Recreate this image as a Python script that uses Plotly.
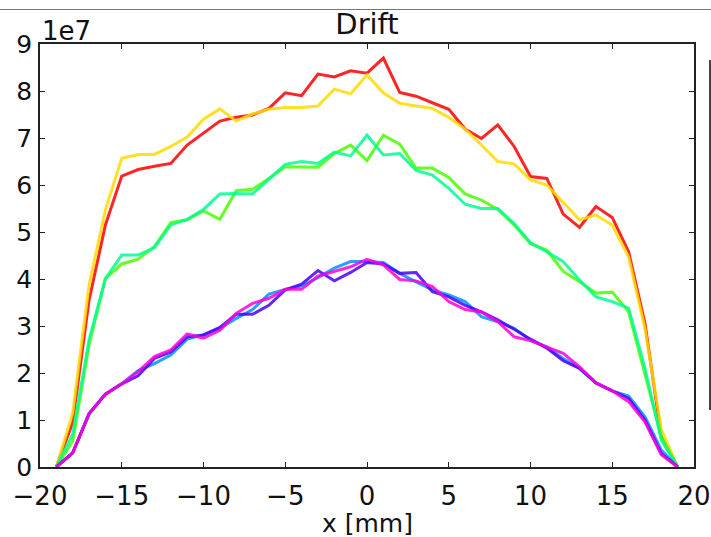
import numpy as np
import plotly.graph_objects as go

# Positions along the detector (mm)
x_mm = list(range(-19, 20))

# Drift signal per channel, in units of 1e7
red = [0, 0.95, 3.55, 5.15, 6.19, 6.33, 6.40, 6.46, 6.85, 7.10, 7.36, 7.44, 7.49, 7.63, 7.96, 7.90, 8.36, 8.30, 8.43,
       8.38, 8.70, 7.97, 7.89, 7.75, 7.61, 7.19, 6.99, 7.28, 6.82, 6.18, 6.14, 5.38, 5.10, 5.54, 5.31, 4.58, 3.06, 0.65, 0]
gold = [0, 1.15, 3.87, 5.47, 6.57, 6.65, 6.65, 6.82, 7.02, 7.40, 7.62, 7.36, 7.51, 7.61, 7.65, 7.65, 7.68, 8.04, 7.94,
        8.34, 7.96, 7.74, 7.68, 7.63, 7.44, 7.19, 6.85, 6.50, 6.45, 6.11, 6.00, 5.62, 5.26, 5.36, 5.15, 4.47, 2.95, 0.80, 0]
lime = [0, 0.55, 2.60, 4.01, 4.32, 4.42, 4.69, 5.20, 5.26, 5.45, 5.27, 5.88, 5.91, 6.14, 6.39, 6.38, 6.38, 6.67, 6.85,
        6.52, 7.06, 6.87, 6.36, 6.36, 6.16, 5.81, 5.68, 5.48, 5.15, 4.75, 4.61, 4.16, 3.94, 3.70, 3.72, 3.30, 1.95, 0.65, 0]
spring = [0, 0.70, 2.70, 4.01, 4.51, 4.51, 4.67, 5.15, 5.27, 5.48, 5.81, 5.82, 5.81, 6.12, 6.44, 6.50, 6.46, 6.70, 6.62,
          7.06, 6.64, 6.67, 6.31, 6.21, 5.93, 5.59, 5.50, 5.50, 5.18, 4.77, 4.58, 4.37, 3.98, 3.62, 3.52, 3.38, 2.10, 0.57, 0]
sky = [0, 0.30, 1.13, 1.55, 1.77, 2.05, 2.20, 2.38, 2.72, 2.81, 2.95, 3.16, 3.35, 3.68, 3.78, 3.85, 4.03, 4.23, 4.37,
       4.37, 4.35, 4.12, 3.94, 3.77, 3.66, 3.52, 3.20, 3.09, 2.95, 2.70, 2.55, 2.31, 2.10, 1.79, 1.62, 1.51, 1.07, 0.36, 0]
violet = [0, 0.30, 1.13, 1.55, 1.77, 1.94, 2.31, 2.45, 2.77, 2.81, 2.97, 3.25, 3.25, 3.44, 3.77, 3.89, 4.18, 3.96, 4.14,
          4.35, 4.32, 4.12, 4.14, 3.73, 3.62, 3.44, 3.30, 3.13, 2.93, 2.72, 2.53, 2.26, 2.10, 1.79, 1.62, 1.46, 1.00, 0.29, 0]
magenta = [0, 0.30, 1.13, 1.55, 1.77, 2.03, 2.35, 2.49, 2.83, 2.74, 2.91, 3.27, 3.48, 3.59, 3.78, 3.78, 4.06, 4.16, 4.26,
           4.42, 4.30, 3.99, 3.96, 3.84, 3.52, 3.35, 3.30, 3.09, 2.77, 2.69, 2.55, 2.42, 2.13, 1.79, 1.62, 1.39, 0.96, 0.26, 0]

scale = 1e7
series = [red, gold, lime, spring, sky, violet, magenta]
colors = ["#ff0000", "#ffdb00", "#49ff00", "#00ff92", "#0092ff", "#4900ff", "#ff00db"]

x_ticks = [-20, -15, -10, -5, 0, 5, 10, 15, 20]
x_ticktext = [str(v).replace("-", "\u2212") for v in x_ticks]
y_ticks = list(range(0, 10))

fig = go.Figure()
for vals, col in zip(series, colors):
    fig.add_trace(go.Scatter(
        x=x_mm, y=np.array(vals) * scale, mode="lines",
        line=dict(color=col, width=3), opacity=0.85, showlegend=False,
    ))

font = "DejaVu Sans, sans-serif"
axis_common = dict(
    showline=True, linecolor="#222", linewidth=1.6, mirror="ticks",
    ticks="inside", ticklen=5, tickwidth=1, tickcolor="#222",
    showgrid=False, zeroline=False, automargin=False,
)

fig.update_layout(
    width=711, height=537,
    margin=dict(l=40, r=17, t=44, b=70),
    paper_bgcolor="white", plot_bgcolor="white",
    title=dict(text="Drift", x=0.5, xref="paper", xanchor="center",
               y=1 - 24 / 537, yref="container", yanchor="middle",
               font=dict(family=font, size=29, color="#111")),
    xaxis=dict(range=[-20, 20], tickvals=x_ticks, ticktext=x_ticktext,
               ticklabelstandoff=5, tickfont=dict(family=font, size=26, color="#111"),
               **axis_common),
    yaxis=dict(range=[0, 9 * scale], tickvals=[v * scale for v in y_ticks],
               ticktext=[str(v) for v in y_ticks], ticklabelstandoff=1,
               tickfont=dict(family=font, size=25, color="#111"), **axis_common),
)

# x-axis title, placed below the tick labels
fig.add_annotation(text="x [mm]", xref="paper", yref="paper", x=0.5, y=-56 / 423,
                   xanchor="center", yanchor="middle", showarrow=False,
                   font=dict(family=font, size=25, color="#111"))

# exponent marker for the y axis
fig.add_annotation(text="1e7", xref="paper", yref="paper", x=0, y=1, xanchor="left", yanchor="bottom",
                   showarrow=False, font=dict(family=font, size=26, color="#111"), yshift=-4)

# frame lines around the figure
fig.add_shape(type="line", xref="paper", yref="paper", x0=-0.1, x1=1.1, y0=1 + 34.5 / 423, y1=1 + 34.5 / 423,
              line=dict(color="#777", width=1.2))
fig.add_shape(type="line", xref="paper", yref="paper", x0=670 / 654, x1=670 / 654,
              y0=(467 - 410) / 423, y1=(467 - 60) / 423, line=dict(color="#444", width=2))

fig.write_html("out.html")
